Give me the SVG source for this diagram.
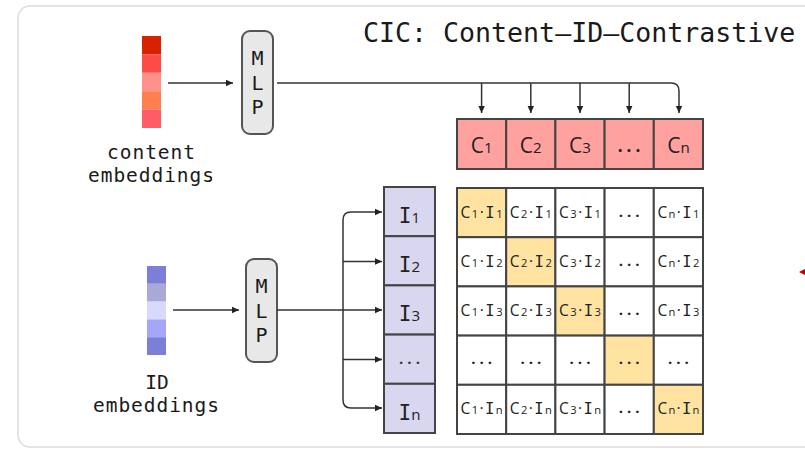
<svg xmlns="http://www.w3.org/2000/svg" width="805" height="452" viewBox="0 0 805 452">
<defs>
<style>
.mono{font-family:"DejaVu Sans Mono","Liberation Mono",monospace;fill:#1a1a1a}
.sans{font-family:"Open Sans","DejaVu Sans",sans-serif;fill:#222}
.cell{stroke:#444;stroke-width:2}
.mlp{fill:#e8e8e8;stroke:#555;stroke-width:2}
.conn{fill:none;stroke:#333;stroke-width:1.5}
.sub{font-size:72%}
.ii{font-family:"DejaVu Sans Mono",monospace}
.dots{font-weight:bold;letter-spacing:4px}
</style>
<marker id="ah" markerUnits="userSpaceOnUse" markerWidth="8" markerHeight="8" refX="7" refY="4" orient="auto">
<path d="M0,0.8 L7,4 L0,7.2 Z" fill="#222"/>
</marker>
</defs>
<rect x="0" y="0" width="805" height="452" fill="#fff"/>
<rect x="18" y="6" width="830" height="441" rx="12" fill="#fff" stroke="#dcdcdc" stroke-width="1.5"/>
<text class="mono" x="363" y="42" font-size="26.6">CIC: Content–ID–Contrastive</text>

<g id="content-emb">
<rect x="142" y="36" width="19" height="18.4" fill="#d72100"/>
<rect x="142" y="54.4" width="19" height="18.4" fill="#ff4b45"/>
<rect x="142" y="72.8" width="19" height="18.4" fill="#ff918a"/>
<rect x="142" y="91.2" width="19" height="18.4" fill="#ff7f4f"/>
<rect x="142" y="109.6" width="19" height="18.4" fill="#ff5c68"/>
<text class="mono" x="151" y="159" font-size="19.5" text-anchor="middle" textLength="88">content</text>
<text class="mono" x="151" y="182" font-size="19.5" text-anchor="middle" textLength="126">embeddings</text>
</g>

<g id="id-emb">
<rect x="147" y="266" width="19" height="17.8" fill="#7b7fd8"/>
<rect x="147" y="283.8" width="19" height="17.8" fill="#a9a8d6"/>
<rect x="147" y="301.6" width="19" height="17.8" fill="#d9d9fb"/>
<rect x="147" y="319.4" width="19" height="17.8" fill="#a6a6f8"/>
<rect x="147" y="337.2" width="19" height="17.8" fill="#7b7fd8"/>
<text class="mono" x="157" y="389" font-size="19.5" text-anchor="middle">ID</text>
<text class="mono" x="156" y="412" font-size="19.5" text-anchor="middle" textLength="126">embeddings</text>
</g>

<g id="mlp-top">
<rect class="mlp" x="242" y="31" width="31" height="103" rx="8"/>
<text class="mono" x="257.5" y="65" font-size="20" text-anchor="middle">M</text>
<text class="mono" x="257.5" y="90" font-size="20" text-anchor="middle">L</text>
<text class="mono" x="257.5" y="114" font-size="20" text-anchor="middle">P</text>
</g>

<g id="mlp-bottom">
<rect class="mlp" x="246" y="259" width="31" height="103" rx="8"/>
<text class="mono" x="261.5" y="293" font-size="20" text-anchor="middle">M</text>
<text class="mono" x="261.5" y="318" font-size="20" text-anchor="middle">L</text>
<text class="mono" x="261.5" y="342" font-size="20" text-anchor="middle">P</text>
</g>

<g id="c-vectors">
<rect class="cell" x="457" y="119" width="49.2" height="50" fill="#ffa19e"/>
<rect class="cell" x="506.2" y="119" width="49.2" height="50" fill="#ffa19e"/>
<rect class="cell" x="555.4" y="119" width="49.2" height="50" fill="#ffa19e"/>
<rect class="cell" x="604.6" y="119" width="49.2" height="50" fill="#ffa19e"/>
<rect class="cell" x="653.8" y="119" width="49.2" height="50" fill="#ffa19e"/>
<g class="sans" font-size="21" text-anchor="middle">
<text x="481.6" y="153">C<tspan class="sub">1</tspan></text>
<text x="530.8" y="153">C<tspan class="sub">2</tspan></text>
<text x="580" y="153">C<tspan class="sub">3</tspan></text>
<text class="dots" x="631" y="152" font-size="17">...</text>
<text x="678.4" y="153">C<tspan class="sub">n</tspan></text>
</g>
</g>

<g id="i-vectors">
<rect class="cell" x="384" y="187" width="51" height="49.2" fill="#d9d6ef"/>
<rect class="cell" x="384" y="236.2" width="51" height="49.2" fill="#d9d6ef"/>
<rect class="cell" x="384" y="285.4" width="51" height="49.2" fill="#d9d6ef"/>
<rect class="cell" x="384" y="334.6" width="51" height="49.2" fill="#d9d6ef"/>
<rect class="cell" x="384" y="383.8" width="51" height="49.2" fill="#d9d6ef"/>
<g class="sans" font-size="21" text-anchor="middle">
<text x="409.5" y="223"><tspan class="ii">I</tspan><tspan class="sub">1</tspan></text>
<text x="409.5" y="272"><tspan class="ii">I</tspan><tspan class="sub">2</tspan></text>
<text x="409.5" y="321"><tspan class="ii">I</tspan><tspan class="sub">3</tspan></text>
<text class="dots" x="411.5" y="364" font-size="15" letter-spacing="3" fill="#333">...</text>
<text x="409.5" y="420"><tspan class="ii">I</tspan><tspan class="sub">n</tspan></text>
</g>
</g>

<g id="matrix">
<g class="cell" fill="#fff">
<rect x="457" y="188" width="49.2" height="49.2" fill="#ffe3a1"/>
<rect x="506.2" y="188" width="49.2" height="49.2"/>
<rect x="555.4" y="188" width="49.2" height="49.2"/>
<rect x="604.6" y="188" width="49.2" height="49.2"/>
<rect x="653.8" y="188" width="49.2" height="49.2"/>
<rect x="457" y="237.2" width="49.2" height="49.2"/>
<rect x="506.2" y="237.2" width="49.2" height="49.2" fill="#ffe3a1"/>
<rect x="555.4" y="237.2" width="49.2" height="49.2"/>
<rect x="604.6" y="237.2" width="49.2" height="49.2"/>
<rect x="653.8" y="237.2" width="49.2" height="49.2"/>
<rect x="457" y="286.4" width="49.2" height="49.2"/>
<rect x="506.2" y="286.4" width="49.2" height="49.2"/>
<rect x="555.4" y="286.4" width="49.2" height="49.2" fill="#ffe3a1"/>
<rect x="604.6" y="286.4" width="49.2" height="49.2"/>
<rect x="653.8" y="286.4" width="49.2" height="49.2"/>
<rect x="457" y="335.6" width="49.2" height="49.2"/>
<rect x="506.2" y="335.6" width="49.2" height="49.2"/>
<rect x="555.4" y="335.6" width="49.2" height="49.2"/>
<rect x="604.6" y="335.6" width="49.2" height="49.2" fill="#ffe3a1"/>
<rect x="653.8" y="335.6" width="49.2" height="49.2"/>
<rect x="457" y="384.8" width="49.2" height="49.2"/>
<rect x="506.2" y="384.8" width="49.2" height="49.2"/>
<rect x="555.4" y="384.8" width="49.2" height="49.2"/>
<rect x="604.6" y="384.8" width="49.2" height="49.2"/>
<rect x="653.8" y="384.8" width="49.2" height="49.2" fill="#ffe3a1"/>
</g>
<g class="sans" font-size="15.5" text-anchor="middle">
<text x="481.6" y="218" textLength="42">C<tspan class="sub">1</tspan>·<tspan class="ii">I</tspan><tspan class="sub">1</tspan></text>
<text x="530.8" y="218" textLength="42">C<tspan class="sub">2</tspan>·<tspan class="ii">I</tspan><tspan class="sub">1</tspan></text>
<text x="580" y="218" textLength="42">C<tspan class="sub">3</tspan>·<tspan class="ii">I</tspan><tspan class="sub">1</tspan></text>
<text class="dots" x="631.2" y="217" font-size="15">...</text>
<text x="678.4" y="218" textLength="42">C<tspan class="sub">n</tspan>·<tspan class="ii">I</tspan><tspan class="sub">1</tspan></text>

<text x="481.6" y="267" textLength="42">C<tspan class="sub">1</tspan>·<tspan class="ii">I</tspan><tspan class="sub">2</tspan></text>
<text x="530.8" y="267" textLength="42">C<tspan class="sub">2</tspan>·<tspan class="ii">I</tspan><tspan class="sub">2</tspan></text>
<text x="580" y="267" textLength="42">C<tspan class="sub">3</tspan>·<tspan class="ii">I</tspan><tspan class="sub">2</tspan></text>
<text class="dots" x="631.2" y="266" font-size="15">...</text>
<text x="678.4" y="267" textLength="42">C<tspan class="sub">n</tspan>·<tspan class="ii">I</tspan><tspan class="sub">2</tspan></text>

<text x="481.6" y="316" textLength="42">C<tspan class="sub">1</tspan>·<tspan class="ii">I</tspan><tspan class="sub">3</tspan></text>
<text x="530.8" y="316" textLength="42">C<tspan class="sub">2</tspan>·<tspan class="ii">I</tspan><tspan class="sub">3</tspan></text>
<text x="580" y="316" textLength="42">C<tspan class="sub">3</tspan>·<tspan class="ii">I</tspan><tspan class="sub">3</tspan></text>
<text class="dots" x="631.2" y="315" font-size="15">...</text>
<text x="678.4" y="316" textLength="42">C<tspan class="sub">n</tspan>·<tspan class="ii">I</tspan><tspan class="sub">3</tspan></text>

<text class="dots" x="483.6" y="364" font-size="15">...</text>
<text class="dots" x="532.8" y="364" font-size="15">...</text>
<text class="dots" x="582" y="364" font-size="15">...</text>
<text class="dots" x="631.2" y="364" font-size="15">...</text>
<text class="dots" x="680.4" y="364" font-size="15">...</text>

<text x="481.6" y="414" textLength="42">C<tspan class="sub">1</tspan>·<tspan class="ii">I</tspan><tspan class="sub">n</tspan></text>
<text x="530.8" y="414" textLength="42">C<tspan class="sub">2</tspan>·<tspan class="ii">I</tspan><tspan class="sub">n</tspan></text>
<text x="580" y="414" textLength="42">C<tspan class="sub">3</tspan>·<tspan class="ii">I</tspan><tspan class="sub">n</tspan></text>
<text class="dots" x="631.2" y="413" font-size="15">...</text>
<text x="678.4" y="414" textLength="42">C<tspan class="sub">n</tspan>·<tspan class="ii">I</tspan><tspan class="sub">n</tspan></text>
</g>
</g>

<g id="connectors">
<path class="conn" d="M168,83 H233" marker-end="url(#ah)"/>
<path class="conn" d="M277,83 H671 Q679,83 679,91 V113" marker-end="url(#ah)"/>
<path class="conn" d="M481.6,83 V113" marker-end="url(#ah)"/>
<path class="conn" d="M530.8,83 V113" marker-end="url(#ah)"/>
<path class="conn" d="M580,83 V113" marker-end="url(#ah)"/>
<path class="conn" d="M629.2,83 V113" marker-end="url(#ah)"/>
<path class="conn" d="M173,310 H239" marker-end="url(#ah)"/>
<path class="conn" d="M277,310 H382" marker-end="url(#ah)"/>
<path class="conn" d="M343,310 V220 Q343,212 351,212 H382" marker-end="url(#ah)"/>
<path class="conn" d="M343,310 V400 Q343,408 351,408 H382" marker-end="url(#ah)"/>
<path class="conn" d="M343,261.5 H382" marker-end="url(#ah)"/>
<path class="conn" d="M343,359.5 H382" marker-end="url(#ah)"/>
<path d="M799,272 L806,268.5 L806,275.5 Z" fill="#c40000"/>
</g>
</svg>
